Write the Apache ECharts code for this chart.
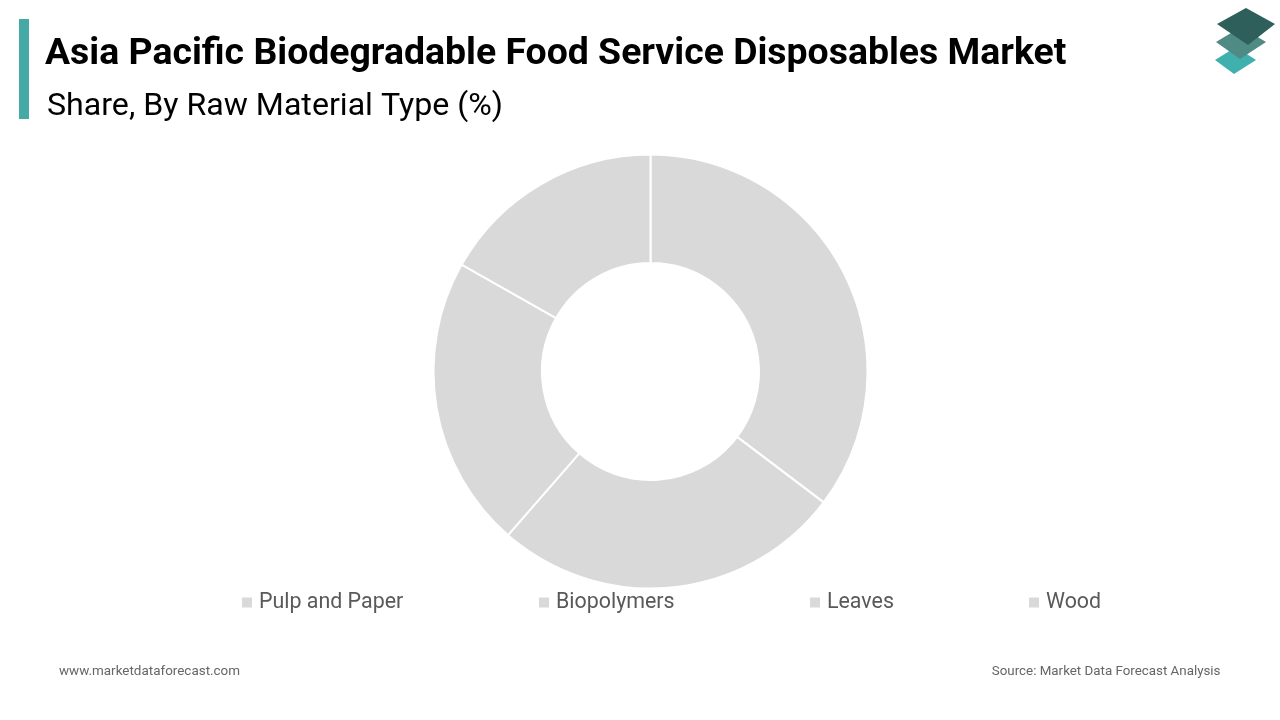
<!DOCTYPE html>
<html>
<head>
<meta charset="utf-8">
<style>html,body{margin:0;padding:0;background:#fff}#chart{width:1280px;height:720px}</style>
<script src="https://cdn.jsdelivr.net/npm/echarts@6/dist/echarts.min.js"></script>
</head>
<body>
<div id="chart"></div>
<script>
var categories = ['Pulp and Paper', 'Biopolymers', 'Leaves', 'Wood'];
var shares = [35.3, 26.1, 21.8, 16.8];
var legendLefts = [235, 532, 803, 1022];

var chart = echarts.init(document.getElementById('chart'));

var font = 'Roboto';

chart.setOption({
    animation: false,
    backgroundColor: '#ffffff',
    title: [
        {text: 'Asia Pacific Biodegradable Food Service Disposables Market', left: 40, top: 31,
            textStyle: {fontFamily: font, fontSize: 37.4, fontWeight: 'bold', color: '#000000'}},
        {text: 'Share, By Raw Material Type (%)', left: 42, top: 86,
            textStyle: {fontFamily: font, fontSize: 32.15, fontWeight: 'normal', color: '#000000'}},
        {text: 'www.marketdataforecast.com', left: 54, top: 660,
            textStyle: {fontFamily: font, fontSize: 13.45, fontWeight: 'normal', color: '#666666'}},
        {text: 'Source: Market Data Forecast Analysis', right: 54.5, top: 660,
            textStyle: {fontFamily: font, fontSize: 13.35, fontWeight: 'normal', color: '#666666'}}
    ],
    legend: categories.map(function (name, i) {
        return {
            data: [name], left: legendLefts[i], top: 587, icon: 'rect',
            itemWidth: 12, itemHeight: 12, itemGap: 5, selectedMode: false,
            textStyle: {fontFamily: font, fontSize: 21.4, color: '#595959', padding: [0, 0, 0, 1]}
        };
    }),
    series: [{
        type: 'pie',
        center: [650.5, 371.5],
        radius: [108.5, 217],
        startAngle: 90,
        clockwise: true,
        label: {show: false},
        labelLine: {show: false},
        itemStyle: {color: '#d9d9d9', borderColor: '#ffffff', borderWidth: 2},
        data: categories.map(function (name, i) {
            return {name: name, value: shares[i]};
        })
    }],
    graphic: [
        {type: 'rect', shape: {x: 19, y: 19, width: 10, height: 100}, style: {fill: '#45aaa5'}},
        // logo, three stacked tiles
        {type: 'polygon', shape: {points: [[1215, 60], [1236, 47], [1256, 60], [1234, 74]]},
            style: {fill: '#3fb0ae'}},
        {type: 'polygon', shape: {points: [[1216, 42], [1241, 27], [1266, 42], [1240, 59]]},
            style: {fill: '#4f8a84'}},
        {type: 'polygon', shape: {points: [[1217, 24], [1246, 8], [1275, 24], [1248, 45]]},
            style: {fill: '#2e5f5b'}}
    ]
});
</script>
</body>
</html>
